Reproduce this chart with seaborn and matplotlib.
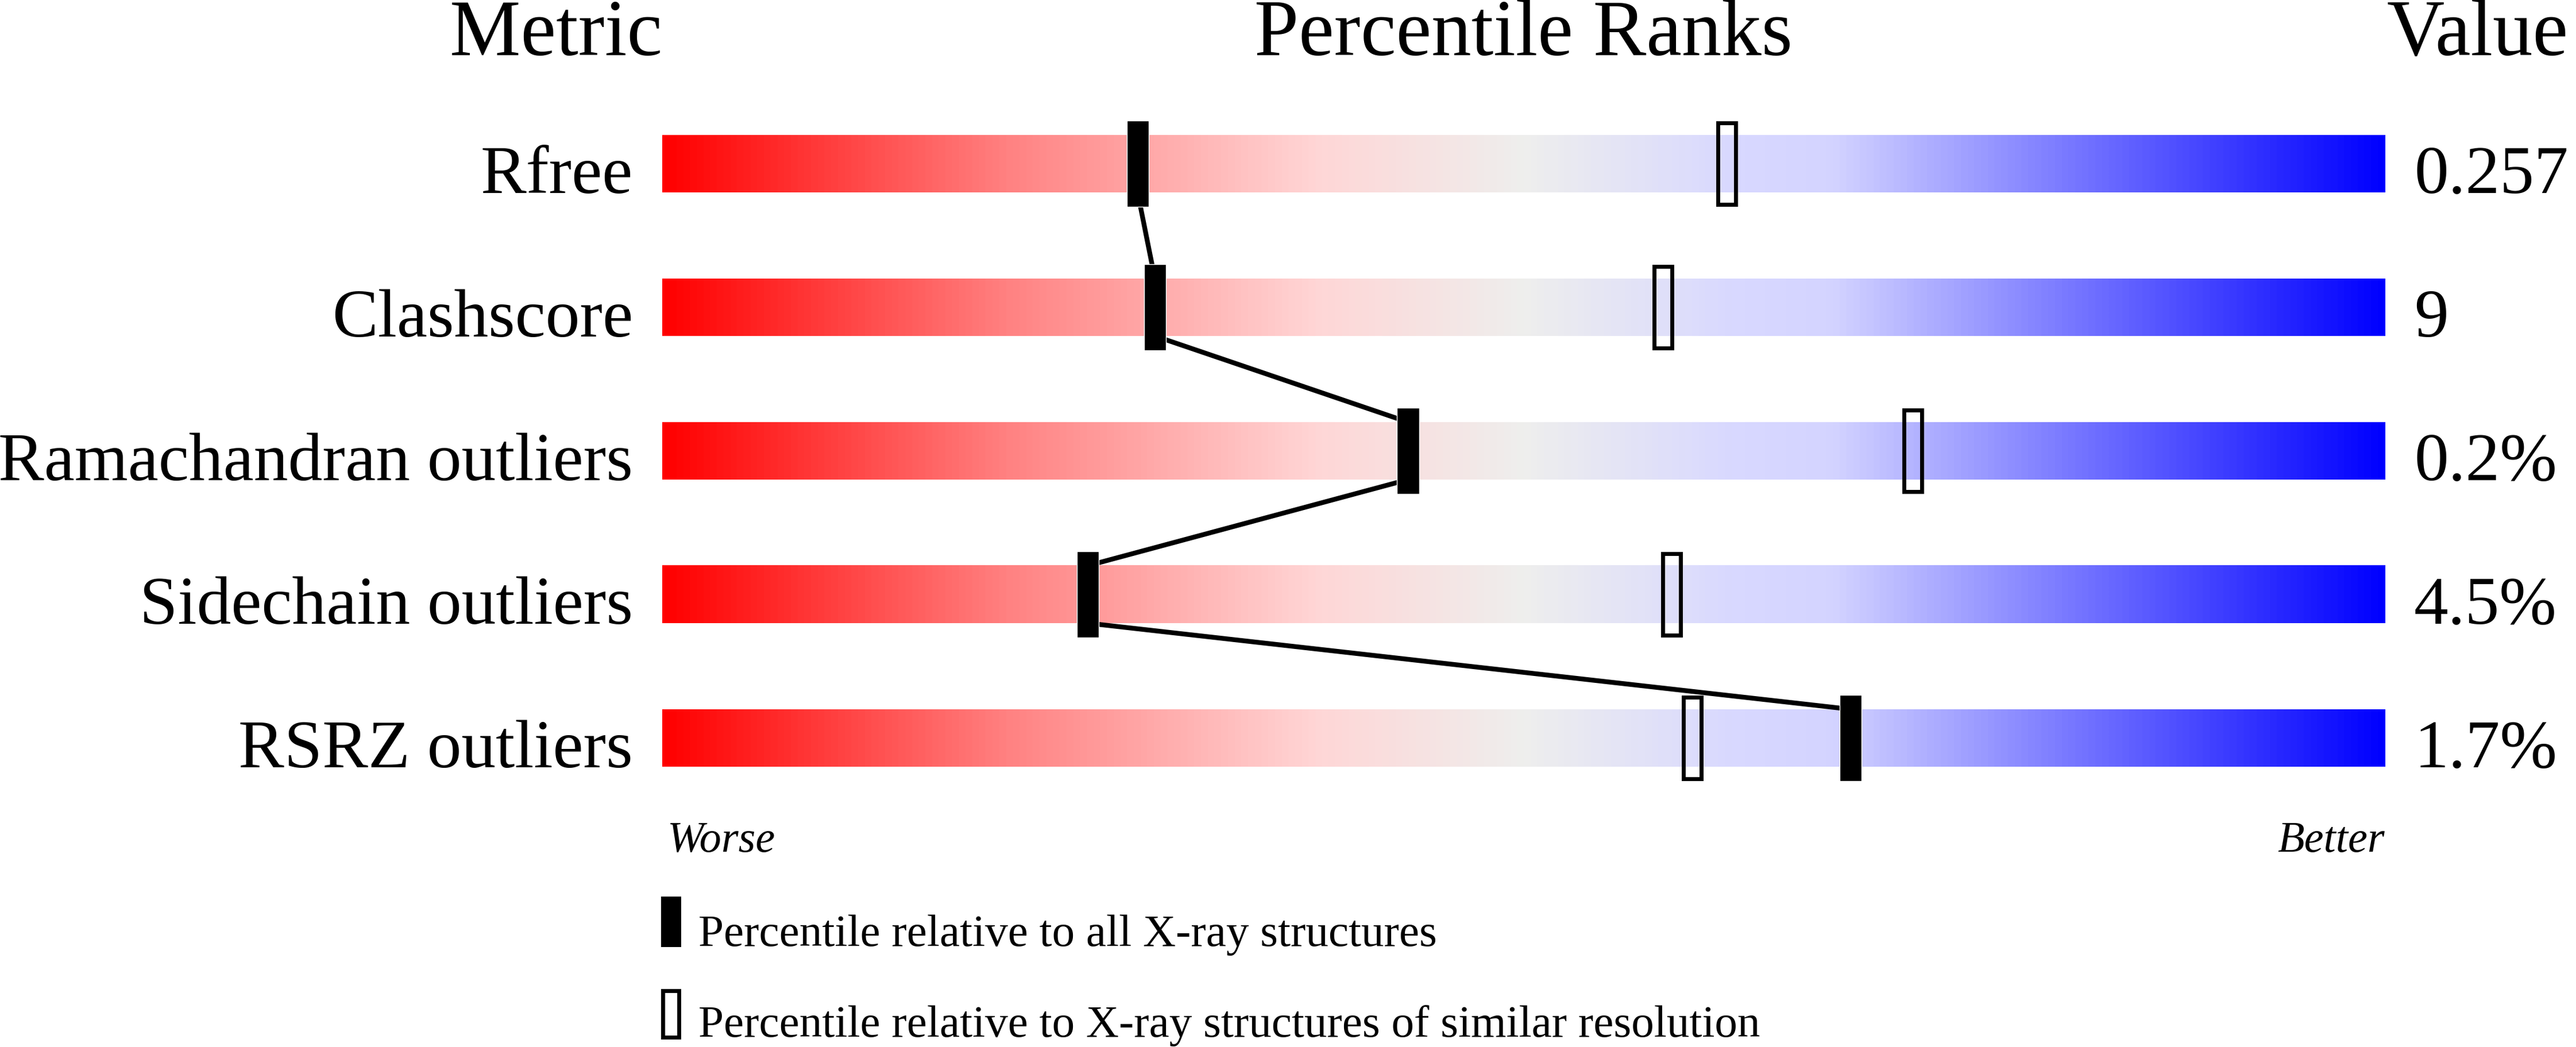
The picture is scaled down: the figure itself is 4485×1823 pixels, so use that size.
import numpy as np
import pandas as pd
import matplotlib
matplotlib.use("Agg")
import matplotlib.pyplot as plt
import seaborn as sns
from matplotlib import font_manager
from matplotlib.colors import LinearSegmentedColormap
from matplotlib.patches import Rectangle

metrics = ["Rfree", "Clashscore", "Ramachandran outliers", "Sidechain outliers", "RSRZ outliers"]
values = ["0.257", "9", "0.2%", "4.5%", "1.7%"]
pct_all = [27.6, 28.6, 43.3, 24.7, 69.0]
pct_similar = [61.8, 58.1, 72.6, 58.6, 59.8]

legend_labels = ["Percentile relative to all X-ray structures",
                 "Percentile relative to X-ray structures of similar resolution"]

sns.set_theme(style="white")

# pick a Times-like serif that is actually installed
installed = {f.name for f in font_manager.fontManager.ttflist}
serif = next((n for n in ["Liberation Serif", "Times New Roman", "Nimbus Roman",
                          "Tinos", "DejaVu Serif"] if n in installed), "serif")
plt.rcParams["font.family"] = [serif, "DejaVu Serif"]
plt.rcParams["text.color"] = "black"

fig = plt.figure(figsize=(44.85, 18.24), dpi=100)
ax = fig.add_axes([0, 0, 1, 1])

# red -> pale -> grey -> lavender -> blue
cmap = LinearSegmentedColormap.from_list("slider", [
    (0.00, (1.0, 0.0, 0.0)),
    (0.20, (1.0, 0.51, 0.51)),
    (0.38, (1.0, 0.84, 0.84)),
    (0.50, (0.935, 0.935, 0.93)),
    (0.62, (0.85, 0.85, 1.0)),
    (0.68, (0.83, 0.83, 1.0)),
    (1.00, (0.0, 0.0, 1.0)),
])
grad = np.linspace(0, 1, 1000).reshape(1, -1)

bar_h = 0.4
for i, m in enumerate(metrics):
    ax.imshow(grad, extent=(0, 100, i + bar_h / 2, i - bar_h / 2), aspect="auto",
              cmap=cmap, interpolation="bilinear", zorder=1)
    ax.text(-1.7, i + bar_h / 2, m, ha="right", va="baseline", fontsize=86)
    ax.text(101.7, i + bar_h / 2, values[i], ha="left", va="baseline", fontsize=86)

# connecting line between the "all structures" markers
line_x, line_y = [], []
for i, p in enumerate(pct_all):
    line_x += [p, p]
    line_y += [i - bar_h / 2, i + bar_h / 2]
line_df = pd.DataFrame({"x": line_x[1:-1], "y": line_y[1:-1]})
sns.lineplot(data=line_df, x="x", y="y", sort=False, estimator=None,
             color="black", linewidth=6, ax=ax, zorder=2)

rows = np.arange(len(metrics))
ax.barh(rows, 1.27, left=np.array(pct_all) - 0.635, height=0.6,
        color="black", zorder=4)
ax.barh(rows, 1.03, left=np.array(pct_similar) - 0.515, height=0.565,
        facecolor="none", edgecolor="black", linewidth=5, zorder=3)

# headers
ax.text(0, -0.76, "Metric", ha="right", va="baseline", fontsize=100)
ax.text(50, -0.76, "Percentile Ranks", ha="center", va="baseline", fontsize=100)
ax.text(100.1, -0.76, "Value", ha="left", va="baseline", fontsize=100)

ax.text(0.3, 4.79, "Worse", ha="left", va="baseline", fontsize=55, style="italic")
ax.text(100, 4.79, "Better", ha="right", va="baseline", fontsize=55, style="italic")

# legend
ax.add_patch(Rectangle((-0.07, 5.104), 1.17, 0.352, facecolor="black", edgecolor="none"))
ax.add_patch(Rectangle((0.05, 5.758), 0.93, 0.324, facecolor="none",
                       edgecolor="black", linewidth=5))
ax.text(2.1, 5.444, legend_labels[0], ha="left", va="baseline", fontsize=57)
ax.text(2.1, 6.076, legend_labels[1], ha="left", va="baseline", fontsize=57)

ax.set_xlim(-38.44, 111.1)
ax.set_ylim(6.152, -1.144)
ax.axis("off")

fig.savefig("out.png", dpi=100, facecolor="white")
